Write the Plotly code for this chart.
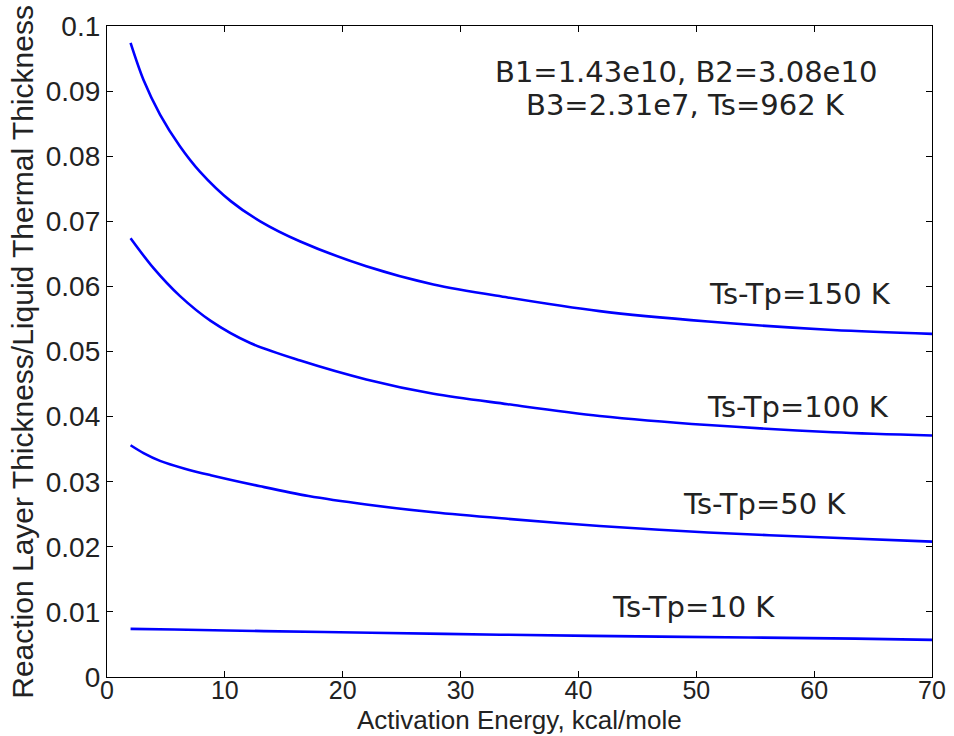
import plotly.graph_objects as go

# Activation energy (kcal/mole) and ratio values
x_150 = [2, 3.1, 4.5, 6.2, 7.9, 10.5, 13, 16.4, 22, 27.7, 34, 41.8, 51, 61.6, 70]
y_150 = [0.0974, 0.0917, 0.0864, 0.0815, 0.0776, 0.0731, 0.0700, 0.0669, 0.0631,
         0.0603, 0.0583, 0.0562, 0.0546, 0.0533, 0.0527]

x_100 = [2, 3.95, 6.2, 8.8, 12.15, 16.4, 22, 27.7, 34, 41.8, 51, 61.6, 70]
y_100 = [0.0674, 0.0628, 0.0585, 0.0547, 0.0513, 0.0486, 0.0457, 0.0435, 0.0419,
         0.0401, 0.0387, 0.0376, 0.0371]

x_50 = [2, 3.1, 4.5, 6.6, 8.8, 13, 17.1, 22, 27.7, 34, 41.8, 51, 61.6, 70]
y_50 = [0.0356, 0.0344, 0.0332, 0.0320, 0.0310, 0.0293, 0.0278, 0.0265, 0.0253, 0.0243,
        0.0232, 0.0222, 0.0214, 0.0208]

x_10 = [2, 5.7, 13.3, 22.4, 33.4, 46.9, 63.5, 70]
y_10 = [0.0074, 0.0073, 0.00705, 0.0068, 0.0065, 0.0062, 0.0059, 0.0057]

series = [(x_150, y_150), (x_100, y_100), (x_50, y_50), (x_10, y_10)]

labels = ["Ts-Tp=150 K", "Ts-Tp=100 K", "Ts-Tp=50 K", "Ts-Tp=10 K"]
label_x = [58.8, 58.6, 55.75, 49.8]
label_y = [0.0588, 0.0415, 0.0265, 0.0107]

info_lines = ["B1=1.43e10, B2=3.08e10", "B3=2.31e7, Ts=962 K"]
info_x = [49.1, 49.1]
info_y = [0.0929, 0.0879]

x_ticks = [0, 10, 20, 30, 40, 50, 60, 70]
y_ticks = [0, 0.01, 0.02, 0.03, 0.04, 0.05, 0.06, 0.07, 0.08, 0.09, 0.1]
y_ticktext = ["0", "0.01", "0.02", "0.03", "0.04", "0.05", "0.06", "0.07", "0.08", "0.09", "0.1"]

fig = go.Figure()
for xs, ys in series:
    fig.add_trace(go.Scatter(x=xs, y=ys, mode="lines",
                             line=dict(color="#0000FF", width=2.6, shape="spline", smoothing=0.9),
                             showlegend=False, hoverinfo="skip"))

FAM = "Liberation Sans, Arial, sans-serif"
ytick_font = dict(family=FAM, size=28, color="#222222")
xtick_font = dict(family=FAM, size=25, color="#222222")
annot_font = dict(family="DejaVu Sans", size=29, color="#222222")

annots = []
for t, ax, ay in zip(labels, label_x, label_y):
    annots.append(dict(x=ax, y=ay, xref="x", yref="y", text=t, showarrow=False,
                       font=annot_font, xanchor="center", yanchor="middle"))
for t, ax, ay in zip(info_lines, info_x, info_y):
    annots.append(dict(x=ax, y=ay, xref="x", yref="y", text=t, showarrow=False,
                       font=annot_font, xanchor="center", yanchor="middle"))
annots.append(dict(x=0.5, y=-0.0665, xref="paper", yref="paper",
                   text="Activation Energy, kcal/mole", showarrow=False,
                   font=dict(family=FAM, size=26, color="#222222"),
                   xanchor="center", yanchor="middle"))
annots.append(dict(x=-0.1027, y=0.5, xref="paper", yref="paper",
                   text="Reaction Layer Thickness/Liquid Thermal Thickness", showarrow=False,
                   textangle=-90, font=dict(family=FAM, size=30, color="#222222"),
                   xanchor="center", yanchor="middle"))

fig.update_layout(
    width=954, height=736,
    margin=dict(l=107, r=22, t=26, b=59, autoexpand=False),
    paper_bgcolor="white", plot_bgcolor="white",
    annotations=annots,
    xaxis=dict(range=[0, 70], tickvals=x_ticks, ticks="inside", ticklen=6, automargin=False,
               showline=True, linecolor="black", linewidth=1.3, mirror="ticks",
               ticklabelstandoff=-9,
               showgrid=False, zeroline=False, tickfont=xtick_font, tickcolor="black"),
    yaxis=dict(range=[0, 0.1], tickvals=y_ticks, ticktext=y_ticktext, ticks="inside", ticklen=6,
               automargin=False,
               showline=True, linecolor="black", linewidth=1.3, mirror="ticks",
               showgrid=False, zeroline=False, tickfont=ytick_font, tickcolor="black"),
)

fig.write_html("out.html")
